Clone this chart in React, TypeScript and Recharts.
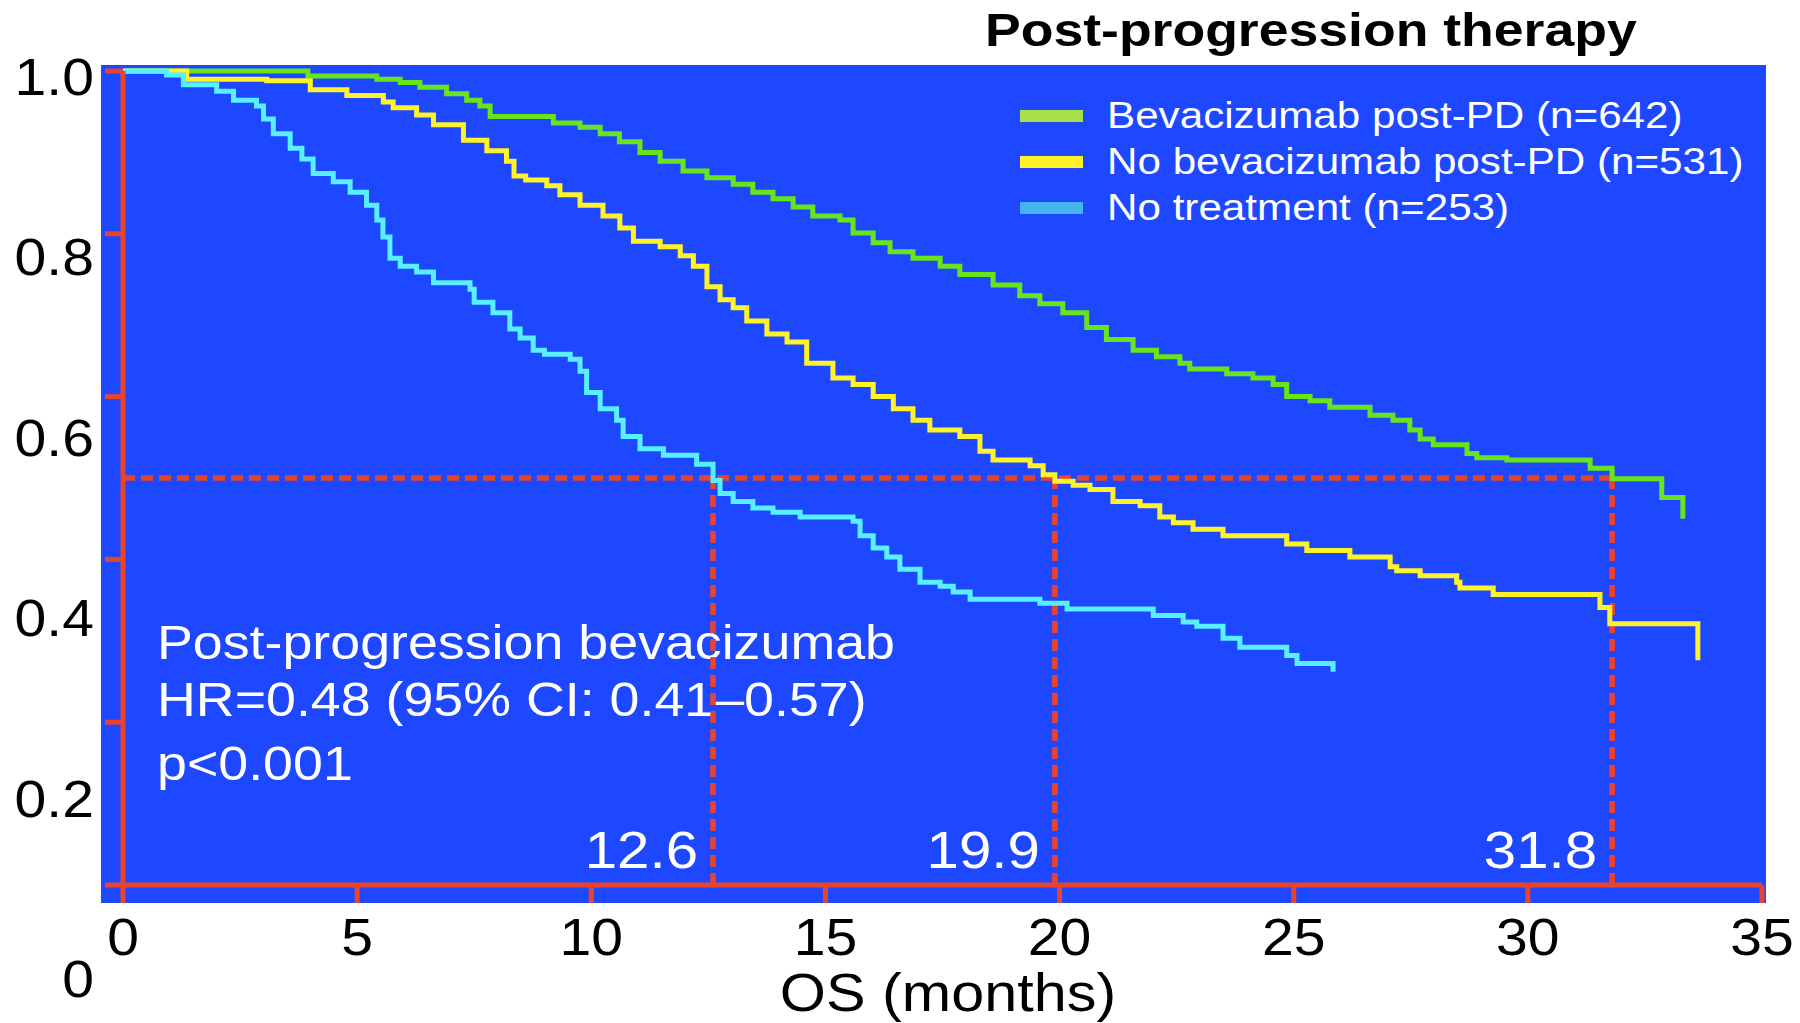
import { Legend, Line, LineChart, ReferenceLine, XAxis, YAxis } from 'recharts'

const FONT = '"Liberation Sans", Arial, sans-serif'
const RED = '#E8432D'
const BLUE = '#1E48FF'
// the source picture is widened a little, so every label gets a horizontal stretch
const STRETCH = 1.12
const TOP = 71

const X_TICKS = [0, 5, 10, 15, 20, 25, 30, 35]
const Y_TICKS = [0, 0.2, 0.4, 0.6, 0.8, 1]
const MEDIANS = [12.6, 19.9, 31.8]
const MEDIAN_SURVIVAL = 0.5

// [month, survival] at each Kaplan-Meier step
type Step = [number, number]

const BEV_POST_PD: Step[] = [
  [0, 1], [3.95, 0.994], [5.42, 0.99], [5.92, 0.986], [6.34, 0.98], [6.91, 0.972], [7.34, 0.964],
  [7.62, 0.957], [7.84, 0.944], [9.19, 0.936], [9.76, 0.931], [10.19, 0.923], [10.6, 0.913],
  [11.04, 0.9], [11.47, 0.889], [11.96, 0.877], [12.47, 0.869], [13.03, 0.861], [13.45, 0.851],
  [13.88, 0.843], [14.31, 0.833], [14.73, 0.822], [15.31, 0.817], [15.59, 0.801], [16.02, 0.789],
  [16.38, 0.778], [16.87, 0.77], [17.45, 0.76], [17.87, 0.75], [18.58, 0.737], [19.15, 0.724],
  [19.58, 0.714], [20.07, 0.703], [20.58, 0.685], [21.0, 0.67], [21.57, 0.657], [22.07, 0.649],
  [22.57, 0.641], [22.78, 0.634], [23.57, 0.628], [24.13, 0.623], [24.56, 0.615], [24.85, 0.6],
  [25.35, 0.595], [25.77, 0.587], [26.63, 0.577], [27.12, 0.571], [27.48, 0.559], [27.7, 0.548],
  [27.98, 0.541], [28.7, 0.53], [28.91, 0.525], [29.55, 0.522], [31.33, 0.512], [31.8, 0.499],
  [32.86, 0.476], [33.31, 0.45],
]

const NO_BEV_POST_PD: Step[] = [
  [0, 1], [1.36, 0.99], [3.07, 0.988], [4.0, 0.977], [4.78, 0.97], [5.56, 0.962], [5.77, 0.955],
  [6.27, 0.946], [6.63, 0.934], [7.27, 0.915], [7.77, 0.902], [8.19, 0.889], [8.35, 0.871],
  [8.6, 0.866], [9.05, 0.859], [9.33, 0.848], [9.76, 0.835], [10.25, 0.822], [10.61, 0.807],
  [10.9, 0.791], [11.47, 0.784], [11.9, 0.773], [12.18, 0.76], [12.47, 0.735], [12.75, 0.719],
  [13.03, 0.709], [13.32, 0.693], [13.75, 0.677], [14.18, 0.667], [14.6, 0.641], [15.16, 0.623],
  [15.59, 0.615], [16.02, 0.6], [16.45, 0.585], [16.87, 0.571], [17.23, 0.559], [17.87, 0.551],
  [18.3, 0.533], [18.58, 0.522], [19.37, 0.515], [19.65, 0.504], [19.9, 0.496], [20.29, 0.491],
  [20.65, 0.486], [21.14, 0.471], [21.72, 0.466], [22.14, 0.452], [22.43, 0.445], [22.85, 0.437],
  [23.49, 0.429], [24.85, 0.419], [25.28, 0.411], [26.2, 0.403], [27.06, 0.391], [27.2, 0.386],
  [27.7, 0.38], [28.48, 0.372], [28.55, 0.365], [29.26, 0.357], [31.54, 0.341], [31.75, 0.321],
  [33.63, 0.276],
]

const NO_TREATMENT: Step[] = [
  [0, 1], [0.93, 0.995], [1.29, 0.983], [2.0, 0.975], [2.36, 0.964], [2.85, 0.957], [3.0, 0.941],
  [3.21, 0.923], [3.57, 0.905], [3.82, 0.892], [4.06, 0.874], [4.49, 0.864], [4.85, 0.851],
  [5.2, 0.835], [5.42, 0.817], [5.55, 0.796], [5.7, 0.77], [5.92, 0.76], [6.27, 0.753],
  [6.63, 0.74], [7.41, 0.732], [7.5, 0.716], [7.9, 0.703], [8.26, 0.683], [8.48, 0.672],
  [8.76, 0.657], [9.0, 0.652], [9.55, 0.646], [9.76, 0.631], [9.9, 0.605], [10.19, 0.585],
  [10.54, 0.571], [10.68, 0.551], [11.04, 0.536], [11.54, 0.528], [12.25, 0.517], [12.6, 0.497],
  [12.75, 0.481], [13.03, 0.471], [13.45, 0.463], [13.88, 0.458], [14.46, 0.452], [15.59, 0.447],
  [15.74, 0.429], [16.02, 0.414], [16.31, 0.403], [16.59, 0.388], [17.02, 0.372], [17.45, 0.367],
  [17.73, 0.36], [18.09, 0.351], [19.58, 0.346], [20.16, 0.339], [22.0, 0.331], [22.64, 0.323],
  [22.93, 0.318], [23.49, 0.303], [23.85, 0.292], [24.85, 0.282], [25.07, 0.272], [25.84, 0.262],
]

const SERIES = [
  { key: 'bev', name: 'Bevacizumab post-PD (n=642)', color: '#67E51A', swatch: '#A8E04A', steps: BEV_POST_PD },
  { key: 'nobev', name: 'No bevacizumab post-PD (n=531)', color: '#FFF229', swatch: '#FFF028', steps: NO_BEV_POST_PD },
  { key: 'none', name: 'No treatment (n=253)', color: '#58F0FF', swatch: '#45B4F5', steps: NO_TREATMENT },
]

function YTick({ y, payload }: any) {
  const v = payload.value as number
  // labels in the source drift downward: they sit on a ~11% taller scale than the tick marks
  const cy = TOP + 6 + (y - TOP) * 1.108
  return (
    <text transform={`translate(94,${cy + 18}) scale(${STRETCH},1)`} textAnchor="end" fontSize={51} fontFamily={FONT} fill="#000">
      {v === 0 ? '0' : v.toFixed(1)}
    </text>
  )
}

function XTick({ x, y, payload }: any) {
  return (
    <text transform={`translate(${x},${y + 50}) scale(${STRETCH},1)`} textAnchor="middle" fontSize={51} fontFamily={FONT} fill="#000">
      {payload.value}
    </text>
  )
}

const medianLabel = (m: number) => ({ viewBox }: any) => (
  <text
    transform={`translate(${viewBox.x - 15},${viewBox.y + viewBox.height - 17}) scale(${STRETCH},1)`}
    textAnchor="end"
    fontSize={52}
    fontFamily={FONT}
    fill="#fff"
  >
    {m.toFixed(1)}
  </text>
)

function LegendBox() {
  return (
    <div style={{ fontFamily: FONT, fontSize: 37, color: '#fff' }}>
      {SERIES.map((s) => (
        <div key={s.key} style={{ display: 'flex', alignItems: 'center', height: 46 }}>
          <span style={{ width: 63, height: 12, background: s.swatch, marginRight: 24, flex: 'none' }} />
          <span style={{ display: 'inline-block', transform: 'scaleX(1.14)', transformOrigin: 'left center', whiteSpace: 'nowrap' }}>
            {s.name}
          </span>
        </div>
      ))}
    </div>
  )
}

const dash = { stroke: RED, strokeWidth: 5.5, strokeDasharray: '12 6' }
const redLine = { stroke: RED, strokeWidth: 5 }

export default function App() {
  return (
    <div style={{ position: 'absolute', left: 0, top: 0, width: 1800, height: 1023, background: '#fff', overflow: 'hidden' }}>
      <div style={{ position: 'absolute', left: 101, top: 65, width: 1665, height: 838, background: BLUE }} />
      <svg width={1800} height={1023} style={{ position: 'absolute', left: 0, top: 0 }}>
        <text transform={`translate(985,46) scale(1.14,1)`} fontSize={47} fontWeight="bold" fontFamily={FONT} fill="#000">
          Post-progression therapy
        </text>
        <g fontSize={48} fontFamily={FONT} fill="#fff">
          <text transform={`translate(157,659) scale(${STRETCH},1)`}>Post-progression bevacizumab</text>
          <text transform={`translate(157,716) scale(${STRETCH},1)`}>HR=0.48 (95% CI: 0.41–0.57)</text>
          <text transform={`translate(157,780) scale(${STRETCH},1)`}>p&lt;0.001</text>
        </g>
        <text transform={`translate(948,1011) scale(${STRETCH},1)`} textAnchor="middle" fontSize={53} fontFamily={FONT} fill="#000">
          OS (months)
        </text>
      </svg>
      <div style={{ position: 'absolute', left: 0, top: 0 }}>
        <LineChart width={1800} height={1023} margin={{ top: TOP, right: 38, bottom: 0, left: 0 }}>
          <XAxis
            type="number"
            dataKey="t"
            domain={[0, 35]}
            ticks={X_TICKS}
            interval={0}
            height={138}
            tickSize={18}
            axisLine={redLine}
            tickLine={redLine}
            tick={XTick}
          />
          <YAxis
            type="number"
            domain={[0, 1]}
            ticks={Y_TICKS}
            interval={0}
            width={123}
            tickSize={18}
            axisLine={redLine}
            tickLine={redLine}
            tick={YTick}
          />
          <ReferenceLine segment={[{ x: 0, y: MEDIAN_SURVIVAL }, { x: MEDIANS[2], y: MEDIAN_SURVIVAL }]} {...dash} />
          {MEDIANS.map((m) => (
            <ReferenceLine key={m} segment={[{ x: m, y: 0 }, { x: m, y: MEDIAN_SURVIVAL }]} {...dash} label={medianLabel(m)} />
          ))}
          {SERIES.map((s) => (
            <Line
              key={s.key}
              name={s.name}
              data={s.steps.map(([t, v]) => ({ t, s: v }))}
              dataKey="s"
              type="stepAfter"
              stroke={s.color}
              strokeWidth={5}
              dot={false}
              activeDot={false}
              isAnimationActive={false}
            />
          ))}
          <Legend
            layout="vertical"
            align="center"
            verticalAlign="middle"
            wrapperStyle={{ position: 'absolute', left: 1020, top: 93, width: 720 }}
            content={() => <LegendBox />}
          />
        </LineChart>
      </div>
    </div>
  )
}
